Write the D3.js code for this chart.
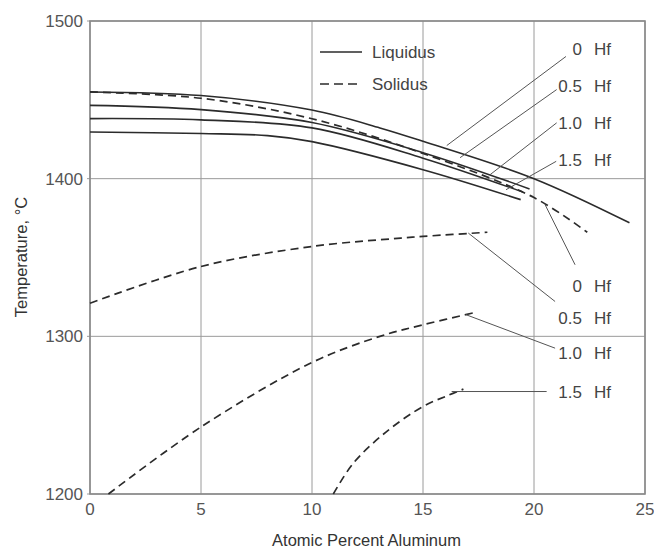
<html>
  <head>
    <title>Liquidus and solidus, Ni-Al-Hf</title>
    <script src="https://cdn.jsdelivr.net/npm/d3@7"></script>
    <style>
      body { margin: 0; background: #fff; }
      text { font-family: "Liberation Sans", Arial, sans-serif; }
    </style>
  </head>
  <body>
    <div id="chart"></div>
  </body>
  <script>
    // x = atomic percent Al, t = temperature (deg C)
    var liq0X = [0, 5, 10, 13.06, 15, 20, 24.3];
    var liq0T = [1455, 1452.7, 1443.5, 1432.2, 1423.7, 1400, 1372];
    var liq05X = [0, 5, 10, 15, 19.8];
    var liq05T = [1446.5, 1443.8, 1435.6, 1416.5, 1393.5];
    var liq10X = [0, 5, 10, 15, 19.5];
    var liq10T = [1438.1, 1437.3, 1432.2, 1413, 1391.5];
    var liq15X = [0, 5, 8, 10, 15, 19.4];
    var liq15T = [1429.6, 1428.6, 1427.3, 1423.5, 1405.7, 1386.7];

    var sol0X = [0, 5, 10, 15, 20, 22.4];
    var sol0T = [1455, 1451, 1438, 1416, 1388, 1366];
    var sol05X = [0, 5, 10, 14, 15, 17.9];
    var sol05T = [1321, 1344.3, 1357, 1362.3, 1363.4, 1366];
    var sol10X = [0.83, 5, 10, 13.06, 15, 17.4];
    var sol10T = [1200, 1242.5, 1283.4, 1300, 1307.3, 1315.3];
    var sol15X = [10.96, 11.86, 13.36, 15, 16.07, 16.82];
    var sol15T = [1200, 1219.5, 1239.6, 1255.5, 1262.2, 1266.5];

    var xTicks = [0, 5, 10, 15, 20, 25];
    var yTicks = [1200, 1300, 1400, 1500];
    var hfLabels = ["0", "0.5", "1.0", "1.5"];

    // leader lines: label temperature, leader start and the point on the curve
    var liqLabelT = [1482, 1458.5, 1435.5, 1412];
    var liqLeadFromX = [21.44, 21.02, 21.02, 21.0];
    var liqLeadFromT = [1477.5, 1456.5, 1435.4, 1411];
    var liqLeadToX = [16.07, 16.67, 18.02, 18.74];
    var liqLeadToT = [1421, 1413.3, 1402.5, 1393];

    var solLabelT = [1332.1, 1311.6, 1289.3, 1265];
    var solLeadFromX = [21.85, 20.95, 20.95, 20.57];
    var solLeadFromT = [1345.4, 1322.1, 1292.5, 1265];
    var solLeadToX = [20.5, 17.04, 16.94, 16.29];
    var solLeadToT = [1383.5, 1365.5, 1313.7, 1265];

    var W = 654, H = 550;
    var plotLeft = 90, plotRight = 645, plotTop = 21, plotBottom = 494;

    var svg = d3.select("#chart").append("svg")
      .attr("width", W).attr("height", H);

    var xScale = d3.scaleLinear().domain([0, 25]).range([plotLeft, plotRight]);
    var yScale = d3.scaleLinear().domain([1200, 1500]).range([plotBottom, plotTop]);

    // grid
    svg.append("g").selectAll("line").data(xTicks).join("line")
      .attr("x1", d => xScale(d)).attr("x2", d => xScale(d))
      .attr("y1", plotTop).attr("y2", plotBottom)
      .attr("stroke", "#9a9a9a").attr("stroke-width", 1);
    svg.append("g").selectAll("line").data(yTicks).join("line")
      .attr("x1", plotLeft - 3).attr("x2", plotRight)
      .attr("y1", d => yScale(d)).attr("y2", d => yScale(d))
      .attr("stroke", "#9a9a9a").attr("stroke-width", 1);

    // frame
    svg.append("rect")
      .attr("x", plotLeft).attr("y", plotTop)
      .attr("width", plotRight - plotLeft).attr("height", plotBottom - plotTop)
      .attr("fill", "none").attr("stroke", "#8a8a8a").attr("stroke-width", 1.6);

    // tick labels
    svg.append("g").selectAll("text").data(xTicks).join("text")
      .attr("x", d => xScale(d)).attr("y", plotBottom + 21)
      .attr("text-anchor", "middle")
      .attr("font-size", 17).attr("fill", "#555")
      .text(d => d);
    svg.append("g").selectAll("text").data(yTicks).join("text")
      .attr("x", plotLeft - 7).attr("y", d => yScale(d) + 6)
      .attr("text-anchor", "end")
      .attr("font-size", 17).attr("fill", "#555")
      .text(d => d);

    // axis titles
    svg.append("text")
      .attr("x", (plotLeft + plotRight) / 2 - 1).attr("y", 546)
      .attr("text-anchor", "middle")
      .attr("font-size", 16.5).attr("fill", "#333")
      .text("Atomic Percent Aluminum");
    svg.append("text")
      .attr("transform", "translate(27, 257) rotate(-90)")
      .attr("text-anchor", "middle")
      .attr("font-size", 16.5).attr("fill", "#333")
      .text("Temperature, \u00B0C");

    var line = d3.line()
      .x(d => xScale(d[0]))
      .y(d => yScale(d[1]))
      .curve(d3.curveCatmullRom.alpha(0.5));

    function zip(xs, ts) {
      return xs.map((x, i) => [x, ts[i]]);
    }

    var liquidus = [
      zip(liq0X, liq0T), zip(liq05X, liq05T),
      zip(liq10X, liq10T), zip(liq15X, liq15T)
    ];
    var solidus = [
      zip(sol0X, sol0T), zip(sol05X, sol05T),
      zip(sol10X, sol10T), zip(sol15X, sol15T)
    ];

    svg.append("g").selectAll("path").data(liquidus).join("path")
      .attr("d", line)
      .attr("fill", "none").attr("stroke", "#2b2b2b")
      .attr("stroke-width", 1.6);

    svg.append("g").selectAll("path").data(solidus).join("path")
      .attr("d", line)
      .attr("fill", "none").attr("stroke", "#2b2b2b")
      .attr("stroke-width", 1.7)
      .attr("stroke-dasharray", "8,5");

    // leaders
    function leaders(fx, ft, tx, tt) {
      svg.append("g").selectAll("line").data(fx).join("line")
        .attr("x1", (d, i) => xScale(fx[i])).attr("y1", (d, i) => yScale(ft[i]))
        .attr("x2", (d, i) => xScale(tx[i])).attr("y2", (d, i) => yScale(tt[i]))
        .attr("stroke", "#555").attr("stroke-width", 1);
    }
    leaders(liqLeadFromX, liqLeadFromT, liqLeadToX, liqLeadToT);
    leaders(solLeadFromX, solLeadFromT, solLeadToX, solLeadToT);

    // Hf labels
    function hfText(temps) {
      var g = svg.append("g");
      g.selectAll("text.num").data(hfLabels).join("text")
        .attr("class", "num")
        .attr("x", 582).attr("y", (d, i) => yScale(temps[i]) + 6)
        .attr("text-anchor", "end")
        .attr("font-size", 17).attr("fill", "#444")
        .text(d => d);
      g.selectAll("text.hf").data(hfLabels).join("text")
        .attr("class", "hf")
        .attr("x", 594).attr("y", (d, i) => yScale(temps[i]) + 6)
        .attr("font-size", 17).attr("fill", "#444")
        .text("Hf");
    }
    hfText(liqLabelT);
    hfText(solLabelT);

    // legend
    var legend = svg.append("g");
    legend.append("line")
      .attr("x1", 320).attr("x2", 362).attr("y1", 52).attr("y2", 52)
      .attr("stroke", "#2b2b2b").attr("stroke-width", 1.6);
    legend.append("line")
      .attr("x1", 320).attr("x2", 362).attr("y1", 84).attr("y2", 84)
      .attr("stroke", "#2b2b2b").attr("stroke-width", 1.6)
      .attr("stroke-dasharray", "9,5");
    legend.append("text")
      .attr("x", 372).attr("y", 58)
      .attr("font-size", 17).attr("fill", "#444")
      .text("Liquidus");
    legend.append("text")
      .attr("x", 372).attr("y", 90)
      .attr("font-size", 17).attr("fill", "#444")
      .text("Solidus");
  </script>
</html>
